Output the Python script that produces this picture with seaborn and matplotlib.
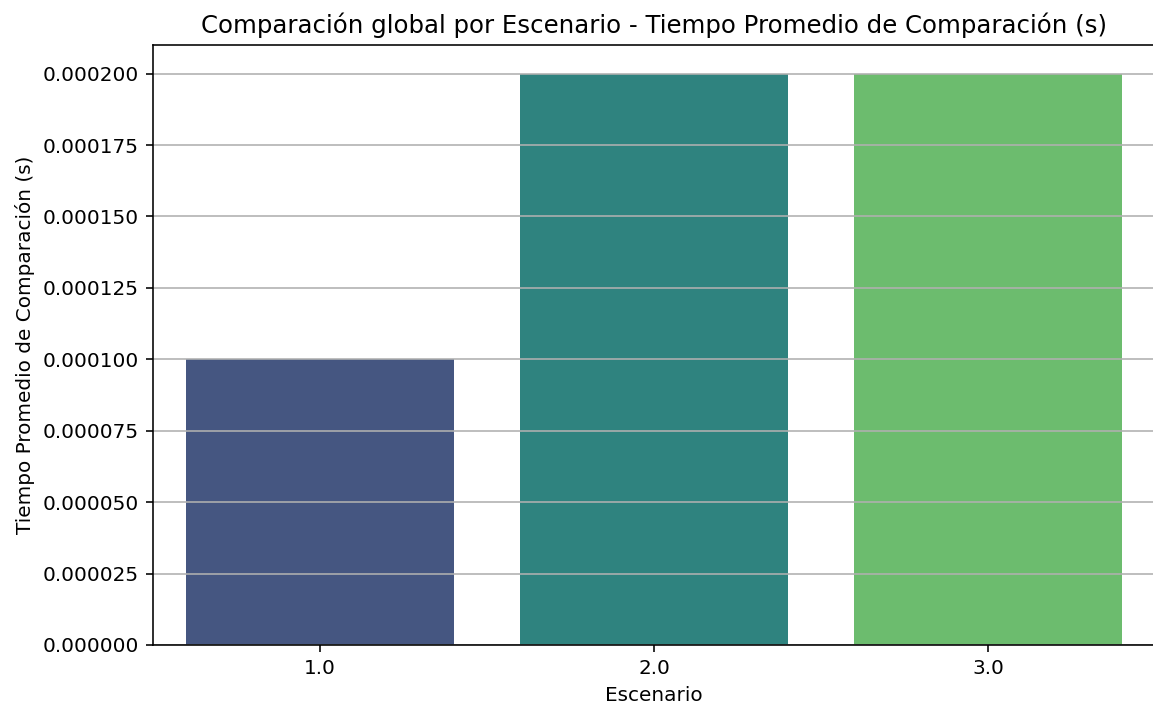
import matplotlib
matplotlib.use("Agg")
import matplotlib.pyplot as plt
from matplotlib.ticker import FormatStrFormatter
import seaborn as sns
import pandas as pd

escenarios = [1.0, 2.0, 3.0]
tiempos = [0.0001, 0.0002, 0.0002]

df = pd.DataFrame({"Escenario": escenarios, "Tiempo": tiempos})
df["Grupo"] = df["Escenario"].astype(str)

dpi = 144
fig = plt.figure(figsize=(1153 / dpi, 709 / dpi), dpi=dpi)
ax = fig.add_axes([153 / 1153, 1 - 645 / 709, (1155 - 153) / 1153, (645 - 45) / 709])

sns.barplot(data=df, x="Escenario", y="Tiempo", hue="Grupo",
            palette=sns.color_palette("viridis", len(escenarios)),
            legend=False, ax=ax)

ax.yaxis.set_major_formatter(FormatStrFormatter("%.6f"))
ax.grid(axis="y")
ax.set_title("Comparación global por Escenario - Tiempo Promedio de Comparación (s)",
             fontsize=12.2)
ax.set_xlabel("Escenario")
ax.set_ylabel("Tiempo Promedio de Comparación (s)")

fig.savefig("out.png", dpi=dpi)
